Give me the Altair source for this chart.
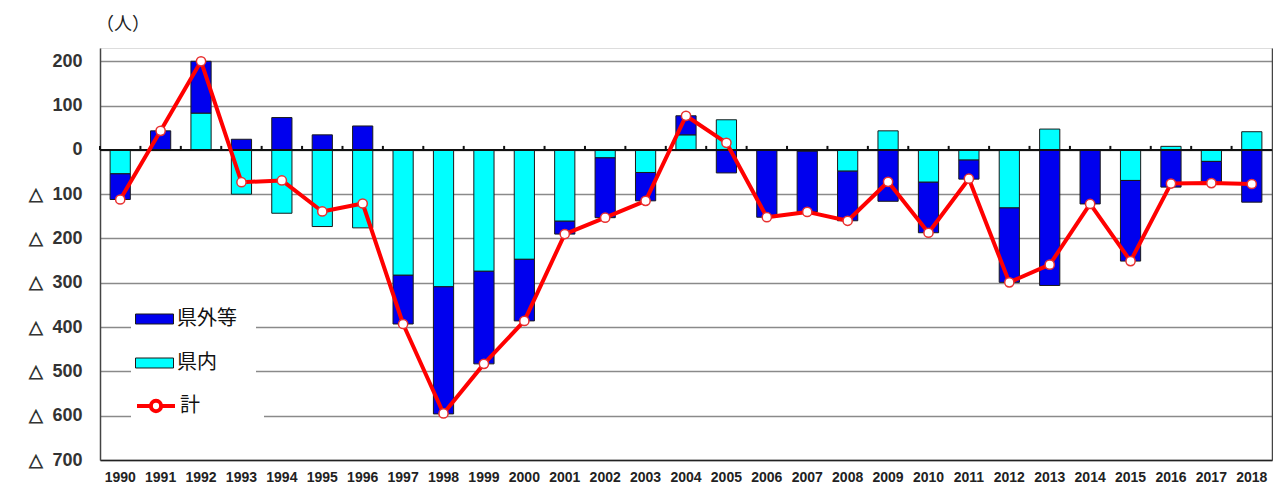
import altair as alt
import pandas as pd

years = [str(y) for y in range(1990, 2019)]
# 県外等 (outside the prefecture etc.)
outside = [-58, 43, 117, 24, 73, 34, 54, -110, -287, -209, -139, -29, -135, -64,
           43, -52, -152, -137, -112, -116, -114, -43, -168, -306, -122, -182,
           -84, -48, -118]
# 県内 (within the prefecture)
inside = [-54, 0, 83, -100, -143, -173, -176, -283, -309, -274, -247, -161, -18, -51,
          34, 68, 0, -3, -48, 43, -73, -23, -131, 47, 0, -69, 8, -26, 41]
# 計 (total)
total = [-112, 43, 200, -73, -69, -139, -121, -393, -595, -483, -386, -190, -153, -115,
         77, 16, -152, -140, -160, -72, -187, -65, -299, -259, -122, -251, -76, -75, -77]

y_ticks = list(range(-700, 201, 100))

BLUE = '#0000EE'
CYAN = '#00FFFF'
RED = '#FF0000'

rows = []
for y, o, i in zip(years, outside, inside):
    rows.append({'year': y, 'series': '県内', 'value': i, 'ord': 0})
    rows.append({'year': y, 'series': '県外等', 'value': o, 'ord': 1})
bars_df = pd.DataFrame(rows)
total_df = pd.DataFrame({'year': years, 'series': ['計'] * len(years), 'value': total})
zero_df = pd.DataFrame({'v': [0]})
cat_df = pd.DataFrame({'year': years})

W, H = 1172, 412
STEP = W / len(years)
x_scale = alt.Scale(paddingInner=0.5, paddingOuter=0.25)
x_axis = alt.Axis(title=None, labelAngle=0, labelFontSize=14, labelFont='Liberation Sans',
                  labelFontWeight='bold', labelColor='#222', labelPadding=10, ticks=False,
                  domainColor='#222', domainWidth=1.5, grid=False)
y_scale = alt.Scale(domain=[-700, 230], nice=False, zero=False)
y_axis = alt.Axis(title=None, values=y_ticks, orient='left',
                  labelExpr="datum.value < 0 ? '\u25b3\u2002' + abs(datum.value) : datum.label",
                  labelFontSize=18, labelFont='Liberation Sans', labelFontWeight='bold',
                  labelColor='#333', labelPadding=18, ticks=False, minExtent=92,
                  domainColor='#444', domainWidth=1.5,
                  gridColor='#8a8a8a', gridWidth=1.3)

RECT_SYM = 'M-1,-0.263H1V0.263H-1Z'
LINE_SYM = 'M-1,0H-0.27M0.27,0H1M0.27,0A0.27,0.27,0,1,1,-0.27,0A0.27,0.27,0,1,1,0.27,0Z'
PADCH = '\u2800'

leg1 = alt.Legend(title=None, orient='none', legendX=31, legendY=248,
                  symbolType=RECT_SYM, symbolSize=1444, symbolStrokeColor='#1a1a1a',
                  symbolStrokeWidth=1, symbolOpacity=1,
                  labelFont='Noto Sans CJK JP', labelFontSize=20, labelColor='#111',
                  labelOffset=3, clipHeight=38, rowPadding=6, padding=4,
                  fillColor='white', labelExpr="datum.label + '" + PADCH * 1 + "'")
leg2 = alt.Legend(title=None, orient='none', legendX=31, legendY=335,
                  symbolType=LINE_SYM, symbolSize=1444, symbolStrokeWidth=4,
                  symbolFillColor='white', symbolOpacity=1,
                  labelFont='Noto Sans CJK JP', labelFontSize=20, labelColor='#111',
                  labelOffset=3, clipHeight=38, rowPadding=6, padding=4,
                  fillColor='white', labelExpr="datum.label + '" + PADCH * 4 + "'")

xenc = alt.X('year:N', sort=years, scale=x_scale, axis=x_axis)

bars = alt.Chart(bars_df).transform_filter('datum.value != 0').mark_bar(
    stroke='#1a1a1a', strokeWidth=1
).encode(
    x=xenc,
    y=alt.Y('value:Q', stack='zero', scale=y_scale, axis=y_axis),
    color=alt.Color('series:N', scale=alt.Scale(domain=['県外等', '県内'], range=[BLUE, CYAN]),
                    legend=leg1),
    order=alt.Order('ord:Q'),
)

zero_rule = alt.Chart(zero_df).mark_rule(color='#111', strokeWidth=2).encode(
    y=alt.Y('v:Q', scale=y_scale,
            axis=alt.Axis(orient='right', title=None, labels=False, ticks=False, grid=False,
                          domain=True, domainColor='#444', domainWidth=1.5)),
)

cat_ticks = alt.Chart(cat_df).mark_rule(color='#111', strokeWidth=2, xOffset=-STEP / 4).encode(
    x=alt.X('year:N', sort=years, scale=x_scale, bandPosition=0, axis=x_axis),
    y=alt.YDatum(0, scale=y_scale, axis=None),
    y2=alt.Y2Datum(9),
)

line = alt.Chart(total_df).mark_line(strokeWidth=4, strokeJoin='round').encode(
    x=xenc,
    y=alt.Y('value:Q', scale=y_scale, axis=None),
    color=alt.Color('series:N', scale=alt.Scale(domain=['計'], range=[RED]), legend=leg2),
)

points = alt.Chart(total_df).mark_point(
    filled=True, fill='white', stroke='#E83030', strokeWidth=1.5, size=85, opacity=1
).encode(
    x=xenc,
    y=alt.Y('value:Q', scale=y_scale, axis=None),
)

chart = alt.layer(bars, zero_rule, cat_ticks, line, points).resolve_scale(
    color='independent'
).resolve_axis(y='independent').properties(
    width=W, height=H,
    padding={'left': 0, 'top': 8, 'right': 0, 'bottom': 0},
    title=alt.TitleParams('（人）', anchor='start', frame='group', fontSize=18,
                          fontWeight='normal', font='Noto Sans CJK JP', color='#222',
                          offset=15, dy=1, dx=-4),
).configure_view(stroke=None).configure(background='white')

chart.save('out.html', embed_options={'renderer': 'svg', 'actions': False})
